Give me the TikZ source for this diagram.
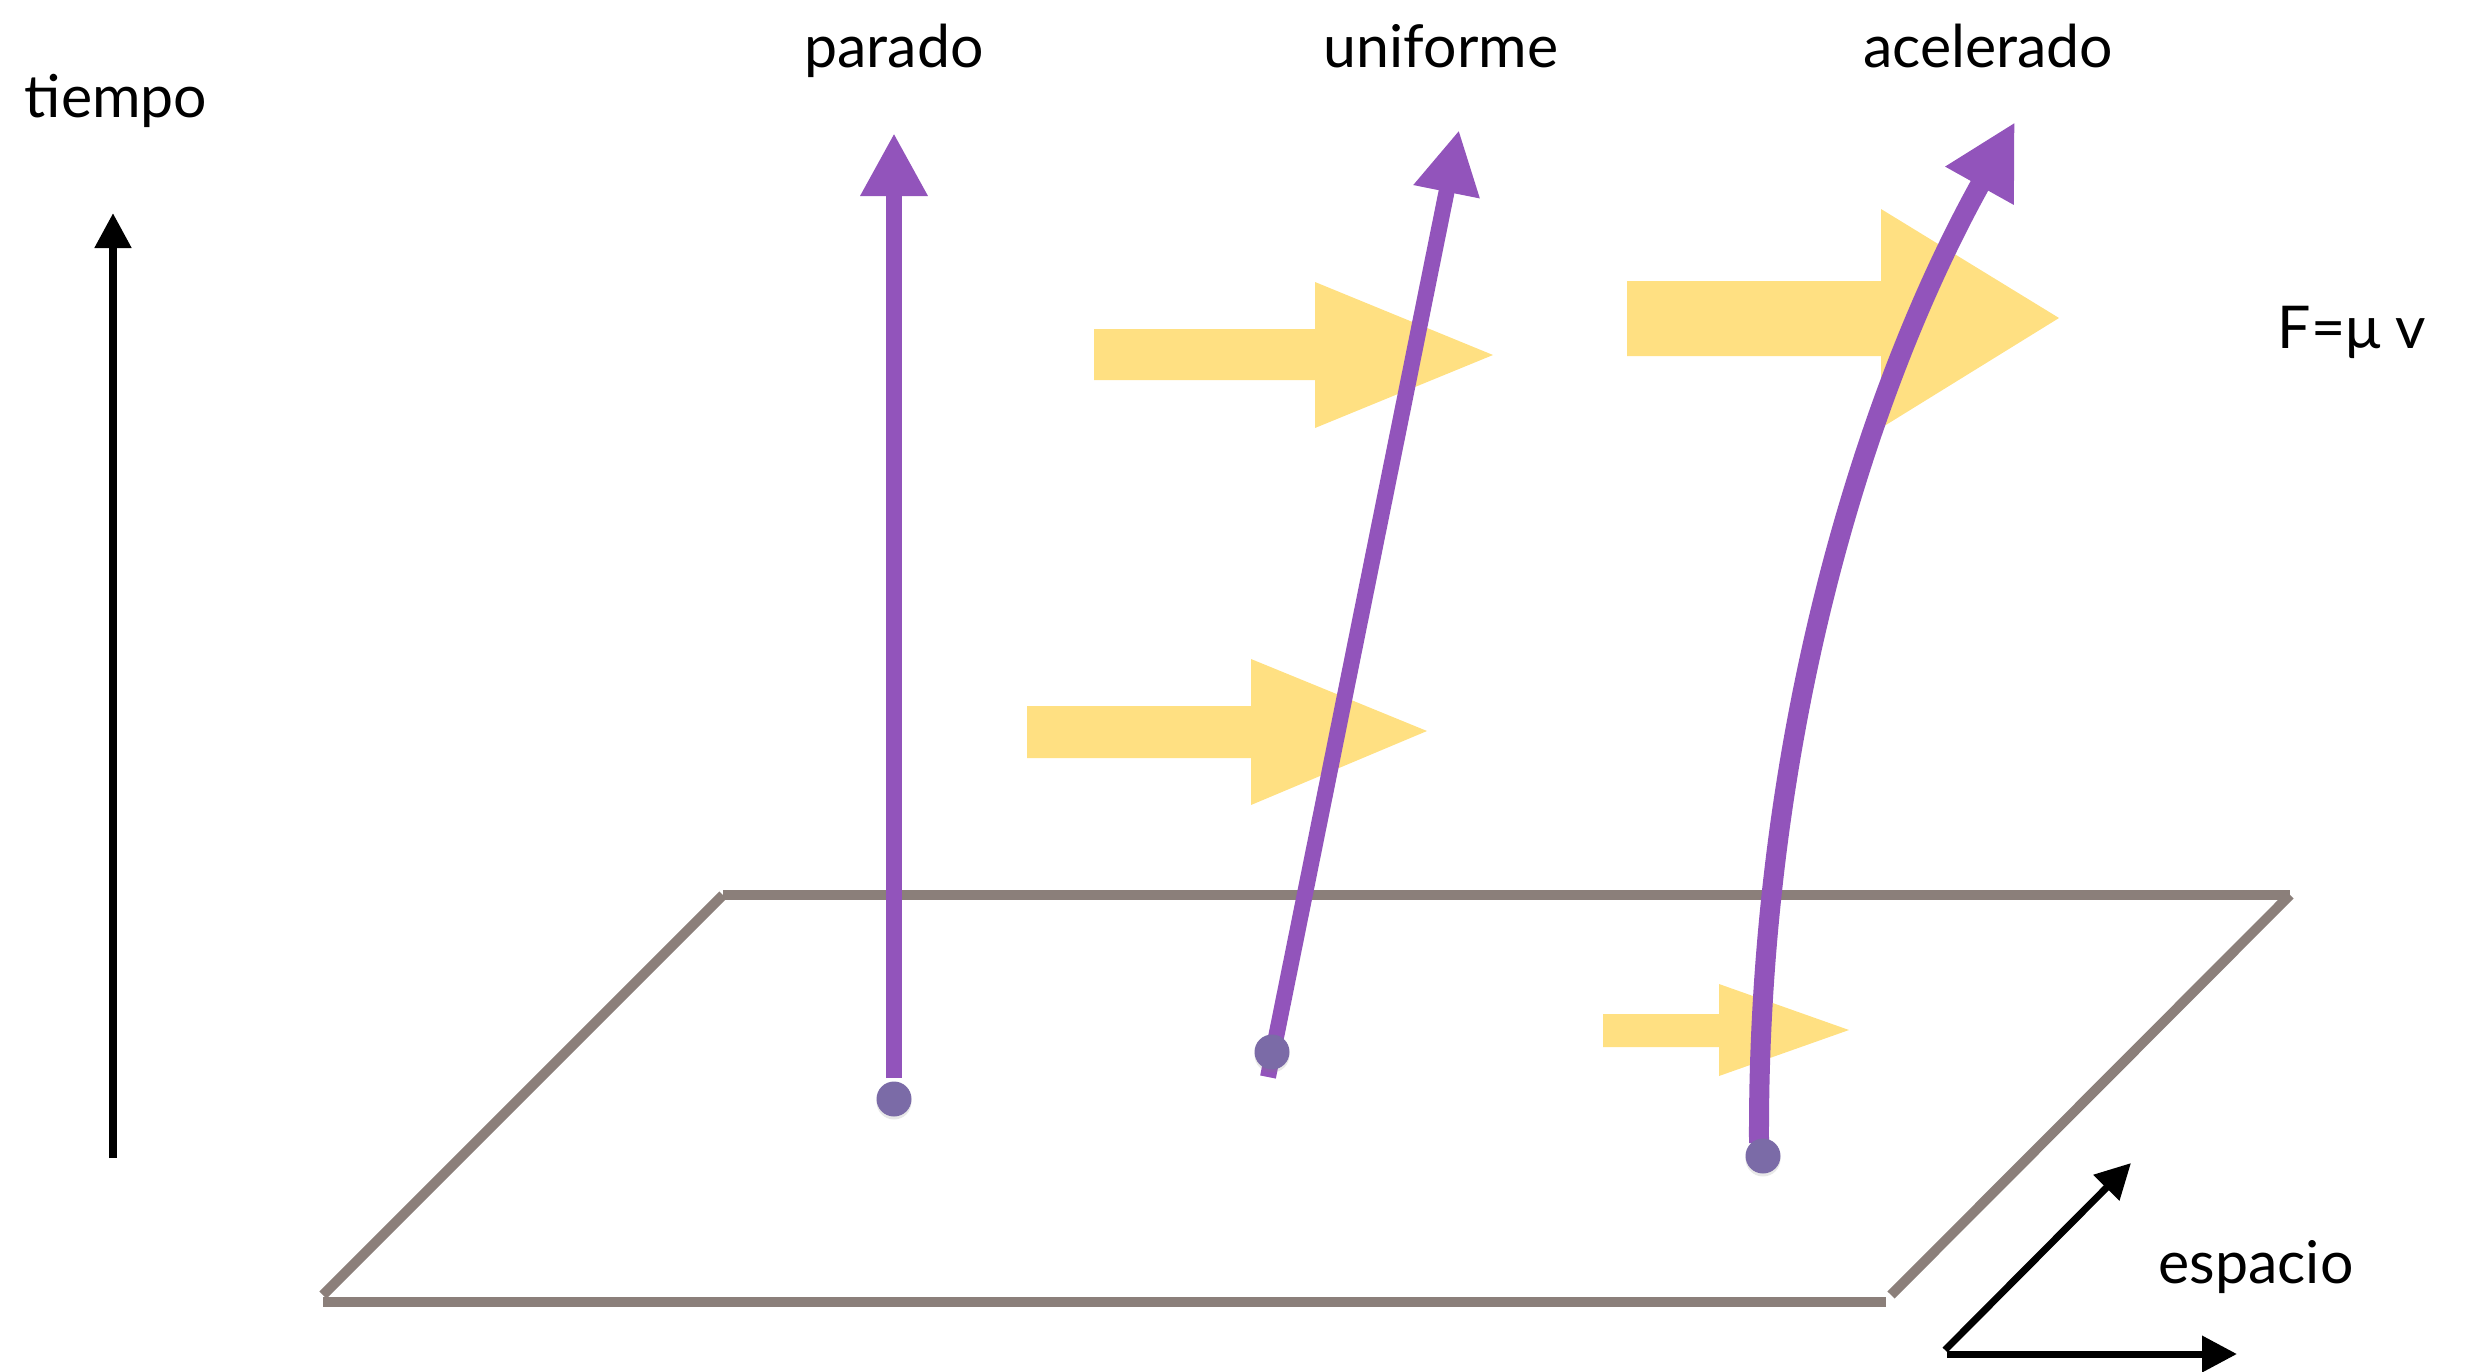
\documentclass[tikz,border=0pt]{standalone}
\usepackage{fontspec}
\setmainfont{Lato}
\usetikzlibrary{arrows.meta,shadows}
\definecolor{worldline}{HTML}{9254BB}
\definecolor{eventdot}{HTML}{7B6BA7}
\definecolor{force}{HTML}{FFE082}
\definecolor{floorgray}{HTML}{8B7F7A}
\begin{document}
\begin{tikzpicture}[x=1pt,y=-1pt,
  lbl/.style={font=\fontsize{59}{60}\selectfont, anchor=base, inner sep=0pt},
  floor/.style={draw=floorgray, line width=10pt},
  push/.style={fill=force},
  wline/.style={draw=worldline, line width=16pt,
    -{Triangle[length=63pt,width=63pt]}},
  axis/.style={draw=black, line width=8pt,
    -{Triangle[length=35pt,width=35pt]}},
  ev/.style={circle, fill=eventdot, minimum size=35pt, inner sep=0pt,
    drop shadow={opacity=0.18, shadow xshift=0pt, shadow yshift=-3pt}}
]
\useasboundingbox (0,0) rectangle (2471,1371);

% floor plane (space)
\draw[floor] (723,895) -- (2290,895);
\draw[floor] (723,895) -- (323,1295);
\draw[floor] (323,1302) -- (1886,1302);
\draw[floor] (2290,895) -- (1891,1295);

% force arrows
\fill[push] (1094,329) -- (1315,329) -- (1315,282) -- (1493,355)
  -- (1315,428) -- (1315,380) -- (1094,380) -- cycle;
\fill[push] (1027,706) -- (1251,706) -- (1251,659) -- (1427,731)
  -- (1251,805) -- (1251,758) -- (1027,758) -- cycle;
\fill[push] (1627,281) -- (1881,281) -- (1881,209) -- (2059,318)
  -- (1881,428) -- (1881,356) -- (1627,356) -- cycle;
\fill[push] (1603,1014) -- (1719,1014) -- (1719,984) -- (1849,1030)
  -- (1719,1076) -- (1719,1047) -- (1603,1047) -- cycle;

% world lines
\coordinate (p0) at (894,1078);
\coordinate (p1) at (894,133);
\coordinate (u0) at (1268,1077);
\coordinate (u1) at (1459,130);
\coordinate (a0) at (1759,1143);
\coordinate (a1) at (2015,122);
\draw[wline] (p0) -- (p1);
\draw[wline] (u0) -- (u1);
\draw[wline, line width=20pt, -{Triangle[length=73pt,width=73pt]}]
  (a0) .. controls (1757,750) and (1860,400) .. (a1);

% events
\node[ev] (dp) at (894,1099) {};
\node[ev] (du) at (1272,1052) {};
\node[ev] (da) at (1763,1156) {};

% time axis
\coordinate (t0) at (113,1158);
\coordinate (t1) at (113,213);
\draw[axis] (t0) -- (t1);

% space axes
\coordinate (s0) at (1945,1350);
\coordinate (s1) at (2131,1163);
\coordinate (s2) at (1947,1354);
\coordinate (s3) at (2237,1354);
\draw[axis, line width=7pt] (s0) -- (s1);
\draw[axis, line width=7pt] (s2) -- (s3);

% labels
\node[lbl] (ltiempo) at (116,117) {tiempo};
\node[lbl] (lparado) at (894,67) {parado};
\node[lbl] (luniforme) at (1441,67) {uniforme};
\node[lbl] (lacelerado) at (1988,67) {acelerado};
\node[lbl] (lley) at (2352,348) {F=μ v};
\node[lbl] (lespacio) at (2256,1283) {espacio};
\end{tikzpicture}
\end{document}
